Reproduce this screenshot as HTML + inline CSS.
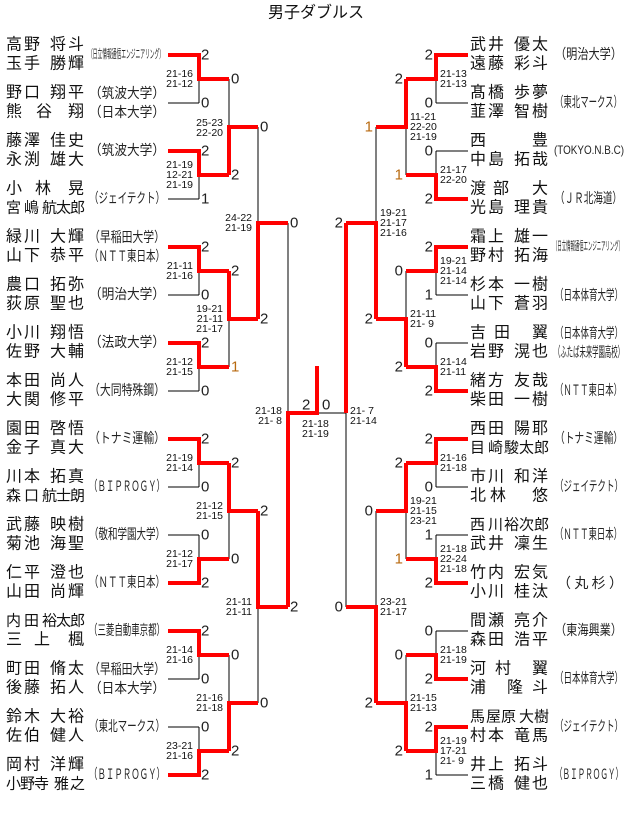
<!DOCTYPE html>
<html><head><meta charset="utf-8"><style>
html,body{margin:0;padding:0;background:#fff;}
svg{display:block;}
.n{font-family:"Liberation Sans","Noto Sans CJK JP",sans-serif;font-size:16px;fill:#111;dominant-baseline:central;}
.a{font-family:"Liberation Sans","Noto Sans CJK JP",sans-serif;font-size:14px;fill:#222;dominant-baseline:central;}
.d{font-family:"Liberation Sans",sans-serif;font-size:15px;fill:#222;dominant-baseline:central;}
.o{fill:#b86a10;}
.s{font-family:"Liberation Sans",sans-serif;font-size:10.5px;fill:#111;dominant-baseline:central;white-space:pre;}
.e{text-anchor:end;}
.k{stroke:#000;stroke-width:1;fill:none;}
.r{stroke:#f00;stroke-width:4;fill:none;}
</style></head><body>
<svg width="630" height="813" viewBox="0 0 630 813" xmlns="http://www.w3.org/2000/svg" shape-rendering="crispEdges">
<text x="316" y="13" text-anchor="middle" dominant-baseline="central" style="font-family:'Liberation Sans','Noto Sans CJK JP',sans-serif;font-size:16px;fill:#111">男子ダブルス</text>

<g class="k">
<path d="M168 55H199M168 103H199M168 151H199M168 199H199M168 247H199M168 295H199M168 343H199M168 391H199M168 439H199M168 487H199M168 535H199M168 583H199M168 631H199M168 679H199M168 727H199M168 775H199"/>
<path d="M199 55V103M199 151V199M199 247V295M199 343V391M199 439V487M199 535V583M199 631V679M199 727V775"/>
<path d="M229 79V175M229 271V367M229 463V559M229 655V751"/>
<path d="M258 127V319M258 511V703M288 223V607"/>
<path d="M317 413H346"/>
<path d="M436 55H468M436 103H468M436 151H468M436 199H468M436 247H468M436 295H468M436 343H468M436 391H468M436 439H468M436 487H468M436 535H468M436 583H468M436 631H468M436 679H468M436 727H468M436 775H468"/>
<path d="M436 55V103M436 151V199M436 247V295M436 343V391M436 439V487M436 535V583M436 631V679M436 727V775"/>
<path d="M406 79V175M406 271V367M406 463V559M406 655V751"/>
<path d="M376 127V319M376 511V703M346 223V607"/>
</g>
<g class="r">
<path d="M168 55H199V79H229M168 151H199V175H229M168 247H199V271H229M168 343H199V367H229M168 439H199V463H229M168 583H199V559H229M168 631H199V655H229M168 775H199V751H229"/>
<path d="M229 175V127H258M229 271V319H258M229 463V511H258M229 751V703H258"/>
<path d="M258 319V223H288M258 511V607H288"/>
<path d="M288 607V413H317V366"/>
<path d="M468 55H436V79H406M468 199H436V175H406M468 247H436V271H406M468 391H436V367H406M468 439H436V463H406M468 583H436V559H406M468 679H436V655H406M468 727H436V751H406"/>
<path d="M406 79V127H376M406 367V319H376M406 463V511H376M406 751V703H376"/>
<path d="M376 319V223H346M376 703V607H346"/>
<path d="M346 223V413"/>
</g>

<g class="d">
<text x="201" y="55">2</text><text x="201" y="103">0</text><text x="201" y="151">2</text><text x="201" y="199">1</text>
<text x="201" y="247">2</text><text x="201" y="295">0</text><text x="201" y="343">2</text><text x="201" y="391">0</text>
<text x="201" y="439">2</text><text x="201" y="487">0</text><text x="201" y="535">0</text><text x="201" y="583">2</text>
<text x="201" y="631">2</text><text x="201" y="679">0</text><text x="201" y="727">0</text><text x="201" y="775">2</text>
<text x="231" y="79">0</text><text x="231" y="175">2</text><text x="231" y="271">2</text><text x="231" y="367" class="o">1</text>
<text x="231" y="463">2</text><text x="231" y="559">0</text><text x="231" y="655">0</text><text x="231" y="751">2</text>
<text x="260" y="127">0</text><text x="260" y="319">2</text><text x="260" y="511">2</text><text x="260" y="703">0</text>
<text x="290" y="223">0</text><text x="290" y="607">2</text>
<text x="302" y="405">2</text><text x="322" y="405">0</text>
</g>
<g class="d e">
<text x="433" y="55">2</text><text x="433" y="103">0</text><text x="433" y="151">0</text><text x="433" y="199">2</text>
<text x="433" y="247">2</text><text x="433" y="295">1</text><text x="433" y="343">0</text><text x="433" y="391">2</text>
<text x="433" y="439">2</text><text x="433" y="487">0</text><text x="433" y="535">1</text><text x="433" y="583">2</text>
<text x="433" y="631">0</text><text x="433" y="679">2</text><text x="433" y="727">2</text><text x="433" y="775">1</text>
<text x="403" y="79">2</text><text x="403" y="175" class="o">1</text><text x="403" y="271">0</text><text x="403" y="367">2</text>
<text x="403" y="463">2</text><text x="403" y="559" class="o">1</text><text x="403" y="655">0</text><text x="403" y="751">2</text>
<text x="373" y="127" class="o">1</text><text x="373" y="319">2</text><text x="373" y="511">0</text><text x="373" y="703">2</text>
<text x="343" y="223">2</text><text x="343" y="607">0</text>
</g>

<g class="s e">
<text x="193" y="74">21-16</text><text x="193" y="84">21-12</text>
<text x="193" y="165">21-19</text><text x="193" y="175">12-21</text><text x="193" y="185">21-19</text>
<text x="193" y="266">21-11</text><text x="193" y="276">21-16</text>
<text x="193" y="362">21-12</text><text x="193" y="372">21-15</text>
<text x="193" y="458">21-19</text><text x="193" y="468">21-14</text>
<text x="193" y="554">21-12</text><text x="193" y="564">21-17</text>
<text x="193" y="650">21-14</text><text x="193" y="660">21-16</text>
<text x="193" y="746">23-21</text><text x="193" y="756">21-16</text>
<text x="223" y="123">25-23</text><text x="223" y="133">22-20</text>
<text x="223" y="309">19-21</text><text x="223" y="319">21-11</text><text x="223" y="329">21-17</text>
<text x="223" y="506">21-12</text><text x="223" y="516">21-15</text>
<text x="223" y="698">21-16</text><text x="223" y="708">21-18</text>
<text x="252" y="218">24-22</text><text x="252" y="228">21-19</text>
<text x="252" y="602">21-11</text><text x="252" y="612">21-11</text>
<text x="282" y="411">21-18</text><text x="282" y="421">21-&#160;8</text>
</g>
<g class="s">
<text x="302" y="424">21-18</text><text x="302" y="434">21-19</text>
<text x="350" y="411">21-&#160;7</text><text x="350" y="421">21-14</text>
<text x="380" y="213">19-21</text><text x="380" y="223">21-17</text><text x="380" y="233">21-16</text>
<text x="380" y="602">23-21</text><text x="380" y="612">21-17</text>
<text x="410" y="117">11-21</text><text x="410" y="127">22-20</text><text x="410" y="137">21-19</text>
<text x="410" y="314">21-11</text><text x="410" y="324">21-&#160;9</text>
<text x="410" y="501">19-21</text><text x="410" y="511">21-15</text><text x="410" y="521">23-21</text>
<text x="410" y="698">21-15</text><text x="410" y="708">21-13</text>
<text x="440" y="74">21-13</text><text x="440" y="84">21-13</text>
<text x="440" y="170">21-17</text><text x="440" y="180">22-20</text>
<text x="440" y="261">19-21</text><text x="440" y="271">21-14</text><text x="440" y="281">21-14</text>
<text x="440" y="362">21-14</text><text x="440" y="372">21-11</text>
<text x="440" y="458">21-16</text><text x="440" y="468">21-18</text>
<text x="440" y="549">21-18</text><text x="440" y="559">22-24</text><text x="440" y="569">21-18</text>
<text x="440" y="650">21-18</text><text x="440" y="660">21-19</text>
<text x="440" y="741">21-19</text><text x="440" y="751">17-21</text><text x="440" y="761">21-&#160;9</text>
</g>

<g class="n">
<text x="6 24 50 68" y="45">高野将斗</text><text x="6 24 50 68" y="64">玉手勝輝</text>
<text x="6 24 50 68" y="93">野口翔平</text><text x="6 36 68" y="112">熊谷翔</text>
<text x="6 24 50 68" y="141">藤澤佳史</text><text x="6 24 50 68" y="160">永渕雄大</text>
<text x="6 35 68" y="189">小林晃</text><text x="6 24 42 56 70" y="208" style="font-size:15px">宮嶋航太郎</text>
<text x="6 24 50 68" y="237">緑川大輝</text><text x="6 24 50 68" y="256">山下恭平</text>
<text x="6 24 50 68" y="285">農口拓弥</text><text x="6 24 50 68" y="304">荻原聖也</text>
<text x="6 24 50 68" y="333">小川翔悟</text><text x="6 24 50 68" y="352">佐野大輔</text>
<text x="6 24 50 68" y="381">本田尚人</text><text x="6 24 50 68" y="400">大関修平</text>
<text x="6 24 50 68" y="429">園田啓悟</text><text x="6 24 50 68" y="448">金子真大</text>
<text x="6 24 50 68" y="477">川本拓真</text><text x="6 24 42 56 70" y="496" style="font-size:15px">森口航士朗</text>
<text x="6 24 50 68" y="525">武藤映樹</text><text x="6 24 50 68" y="544">菊池海聖</text>
<text x="6 24 50 68" y="573">仁平澄也</text><text x="6 24 50 68" y="592">山田尚輝</text>
<text x="6 24 42 56 70" y="621" style="font-size:15px">内田裕太郎</text><text x="6 34 68" y="640">三上楓</text>
<text x="6 24 50 68" y="669">町田脩太</text><text x="6 24 50 68" y="688">後藤拓人</text>
<text x="6 24 50 68" y="717">鈴木大裕</text><text x="6 24 50 68" y="736">佐伯健人</text>
<text x="6 24 50 68" y="765">岡村洋輝</text><text x="6 20 34 54 70" y="784" style="font-size:15px">小野寺雅之</text>
</g>
<g class="n">
<text x="470 488 514 532" y="45">武井優太</text><text x="470 488 514 532" y="64">遠藤彩斗</text>
<text x="470 488 514 532" y="93">髙橋歩夢</text><text x="470 488 514 532" y="112">韮澤智樹</text>
<text x="470 532" y="141">西豊</text><text x="470 488 514 532" y="160">中島拓哉</text>
<text x="470 493 532" y="189">渡部大</text><text x="470 488 514 532" y="208">光島理貴</text>
<text x="470 488 514 532" y="237">霜上雄一</text><text x="470 488 514 532" y="256">野村拓海</text>
<text x="470 488 514 532" y="285">杉本一樹</text><text x="470 488 514 532" y="304">山下蒼羽</text>
<text x="470 494 532" y="333">吉田翼</text><text x="470 488 514 532" y="352">岩野滉也</text>
<text x="470 488 514 532" y="381">緒方友哉</text><text x="470 488 514 532" y="400">柴田一樹</text>
<text x="470 488 514 532" y="429">西田陽耶</text><text x="470 488 504 519 534" y="448" style="font-size:15px">目崎駿太郎</text>
<text x="470 488 514 532" y="477">市川和洋</text><text x="470 490 532" y="496">北林悠</text>
<text x="470 488 504 519 534" y="525" style="font-size:15px">西川裕次郎</text><text x="470 488 514 532" y="544">武井凜生</text>
<text x="470 488 514 532" y="573">竹内宏気</text><text x="470 488 514 532" y="592">小川桂汰</text>
<text x="470 488 514 532" y="621">間瀬亮介</text><text x="470 488 514 532" y="640">森田浩平</text>
<text x="470 495 532" y="669">河村翼</text><text x="470 507 532" y="688">浦隆斗</text>
<text x="470 486 501 519 534" y="717" style="font-size:15px">馬屋原大樹</text><text x="470 488 514 532" y="736">村本竜馬</text>
<text x="470 488 514 532" y="765">井上拓斗</text><text x="470 488 514 532" y="784">三橋健也</text>
</g>

<g class="a">
<text x="88" y="54" textLength="76" lengthAdjust="spacingAndGlyphs" style="font-size:12px">（日立情報通信エンジニアリング）</text>
<text x="89" y="93" textLength="76" lengthAdjust="spacingAndGlyphs">（筑波大学）</text>
<text x="89" y="112" textLength="76" lengthAdjust="spacingAndGlyphs">（日本大学）</text>
<text x="89" y="150" textLength="76" lengthAdjust="spacingAndGlyphs">（筑波大学）</text>
<text x="89" y="198" textLength="76" lengthAdjust="spacingAndGlyphs">（ジェイテクト）</text>
<text x="89" y="237" textLength="76" lengthAdjust="spacingAndGlyphs">（早稲田大学）</text>
<text x="89" y="256" textLength="76" lengthAdjust="spacingAndGlyphs">（ＮＴＴ東日本）</text>
<text x="89" y="294" textLength="76" lengthAdjust="spacingAndGlyphs">（明治大学）</text>
<text x="89" y="342" textLength="76" lengthAdjust="spacingAndGlyphs">（法政大学）</text>
<text x="89" y="390" textLength="76" lengthAdjust="spacingAndGlyphs">（大同特殊鋼）</text>
<text x="89" y="438" textLength="76" lengthAdjust="spacingAndGlyphs">（トナミ運輸）</text>
<text x="89" y="486" textLength="76" lengthAdjust="spacingAndGlyphs">（ＢＩＰＲＯＧＹ）</text>
<text x="89" y="534" textLength="76" lengthAdjust="spacingAndGlyphs">（敬和学園大学）</text>
<text x="89" y="582" textLength="76" lengthAdjust="spacingAndGlyphs">（ＮＴＴ東日本）</text>
<text x="89" y="630" textLength="76" lengthAdjust="spacingAndGlyphs">（三菱自動車京都）</text>
<text x="89" y="669" textLength="76" lengthAdjust="spacingAndGlyphs">（早稲田大学）</text>
<text x="89" y="688" textLength="76" lengthAdjust="spacingAndGlyphs">（日本大学）</text>
<text x="89" y="726" textLength="76" lengthAdjust="spacingAndGlyphs">（東北マークス）</text>
<text x="89" y="774" textLength="76" lengthAdjust="spacingAndGlyphs">（ＢＩＰＲＯＧＹ）</text>
</g>
<g class="a">
<text x="555" y="54" textLength="67" lengthAdjust="spacingAndGlyphs">（明治大学）</text>
<text x="555" y="102" textLength="67" lengthAdjust="spacingAndGlyphs">（東北マークス）</text>
<text x="554" y="150" textLength="70" lengthAdjust="spacingAndGlyphs" style="font-size:12px">(TOKYO.N.B.C)</text>
<text x="555" y="198" textLength="67" lengthAdjust="spacingAndGlyphs">（ＪＲ北海道）</text>
<text x="553" y="246" textLength="70" lengthAdjust="spacingAndGlyphs" style="font-size:12px">（日立情報通信エンジニアリング）</text>
<text x="555" y="295" textLength="68" lengthAdjust="spacingAndGlyphs">（日本体育大学）</text>
<text x="555" y="333" textLength="68" lengthAdjust="spacingAndGlyphs">（日本体育大学）</text>
<text x="554" y="352" textLength="70" lengthAdjust="spacingAndGlyphs">（ふたば未来学園高校）</text>
<text x="555" y="390" textLength="67" lengthAdjust="spacingAndGlyphs">（ＮＴＴ東日本）</text>
<text x="555" y="438" textLength="68" lengthAdjust="spacingAndGlyphs">（トナミ運輸）</text>
<text x="555" y="486" textLength="68" lengthAdjust="spacingAndGlyphs">（ジェイテクト）</text>
<text x="555" y="534" textLength="67" lengthAdjust="spacingAndGlyphs">（ＮＴＴ東日本）</text>
<text x="557" y="583" textLength="66" lengthAdjust="spacing">（ 丸 杉 ）</text>
<text x="555" y="630" textLength="67" lengthAdjust="spacingAndGlyphs">（東海興業）</text>
<text x="555" y="678" textLength="68" lengthAdjust="spacingAndGlyphs">（日本体育大学）</text>
<text x="555" y="726" textLength="68" lengthAdjust="spacingAndGlyphs">（ジェイテクト）</text>
<text x="555" y="774" textLength="68" lengthAdjust="spacingAndGlyphs">（ＢＩＰＲＯＧＹ）</text>
</g>
</svg>
</body></html>
